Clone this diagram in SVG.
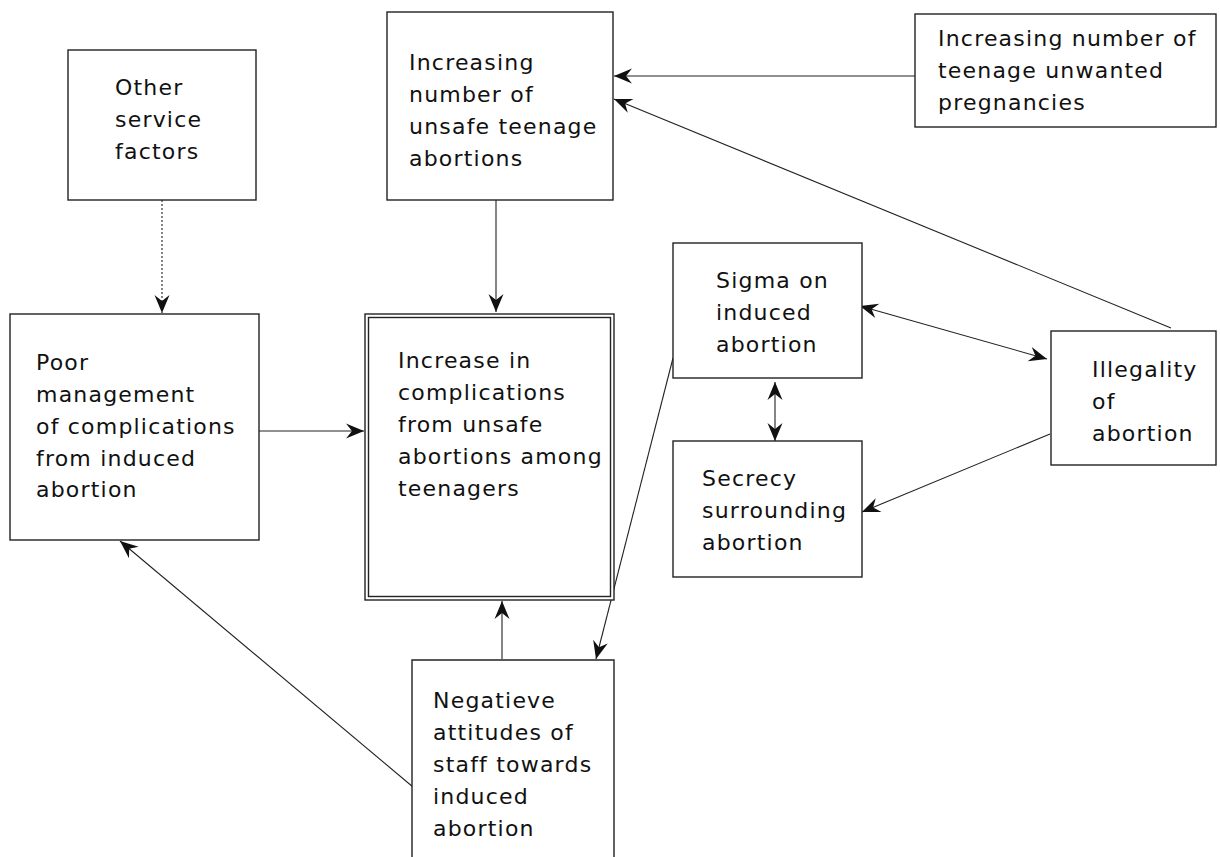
<svg xmlns="http://www.w3.org/2000/svg" width="1220" height="857" viewBox="0 0 1220 857">
<style>
.box{fill:#fff;stroke:#222;stroke-width:1.4}
.t{font-family:"DejaVu Sans",sans-serif;font-size:22px;letter-spacing:1.2px;fill:#111}
.c{fill:none;stroke:#222;stroke-width:1.1}
.d{stroke-dasharray:2,2}
</style>
<defs>
<marker id="ah" markerUnits="userSpaceOnUse" markerWidth="20" markerHeight="16" refX="18" refY="8" orient="auto-start-reverse" overflow="visible">
<path d="M0,0.5 L18,8 L0,15.5 L6,8 z" fill="#111"/>
</marker>
</defs>
<rect width="1220" height="857" fill="#fff"/>
<g id="connectors">
<line class="c d" x1="162" y1="200" x2="162" y2="313" marker-end="url(#ah)"/>
<line class="c" x1="496" y1="200" x2="496" y2="312" marker-end="url(#ah)"/>
<line class="c" x1="915" y1="76" x2="614" y2="76" marker-end="url(#ah)"/>
<line class="c" x1="1171" y1="328" x2="614" y2="99" marker-end="url(#ah)"/>
<line class="c" x1="860" y1="306" x2="1047" y2="359" marker-start="url(#ah)" marker-end="url(#ah)"/>
<line class="c" x1="775" y1="382" x2="775" y2="441" marker-start="url(#ah)" marker-end="url(#ah)"/>
<line class="c" x1="1050" y1="434" x2="862" y2="512" marker-end="url(#ah)"/>
<line class="c" x1="673" y1="358" x2="596" y2="659" marker-end="url(#ah)"/>
<line class="c" x1="259" y1="431" x2="364" y2="431" marker-end="url(#ah)"/>
<line class="c" x1="502" y1="659" x2="502" y2="601" marker-end="url(#ah)"/>
<line class="c" x1="413" y1="787" x2="120" y2="541" marker-end="url(#ah)"/>
</g>
<g id="other-service">
<rect class="box" x="68" y="50" width="188" height="150"/>
<text class="t" x="115" y="95">Other</text>
<text class="t" x="115" y="127">service</text>
<text class="t" x="115" y="159">factors</text>
</g>
<g id="unsafe-abortions">
<rect class="box" x="387" y="12" width="226" height="188"/>
<text class="t" x="409" y="70">Increasing</text>
<text class="t" x="409" y="102">number of</text>
<text class="t" x="409" y="134">unsafe teenage</text>
<text class="t" x="409" y="166">abortions</text>
</g>
<g id="unwanted-pregnancies">
<rect class="box" x="915" y="14" width="301" height="113"/>
<text class="t" x="938" y="46">Increasing number of</text>
<text class="t" x="938" y="78">teenage unwanted</text>
<text class="t" x="938" y="110">pregnancies</text>
</g>
<g id="poor-management">
<rect class="box" x="10" y="314" width="249" height="226"/>
<text class="t" x="36" y="370">Poor</text>
<text class="t" x="36" y="402">management</text>
<text class="t" x="36" y="434">of complications</text>
<text class="t" x="36" y="466">from induced</text>
<text class="t" x="36" y="497">abortion</text>
</g>
<g id="complications">
<rect class="box" x="365" y="314" width="249" height="286"/>
<rect class="box" x="368.5" y="317.5" width="242" height="279" style="fill:none"/>
<text class="t" x="398" y="368">Increase in</text>
<text class="t" x="398" y="400">complications</text>
<text class="t" x="398" y="432">from unsafe</text>
<text class="t" x="398" y="464">abortions among</text>
<text class="t" x="398" y="496">teenagers</text>
</g>
<g id="stigma">
<rect class="box" x="673" y="243" width="189" height="135"/>
<text class="t" x="716" y="288">Sigma on</text>
<text class="t" x="716" y="320">induced</text>
<text class="t" x="716" y="352">abortion</text>
</g>
<g id="secrecy">
<rect class="box" x="673" y="441" width="189" height="136"/>
<text class="t" x="702" y="486">Secrecy</text>
<text class="t" x="702" y="518">surrounding</text>
<text class="t" x="702" y="550">abortion</text>
</g>
<g id="illegality">
<rect class="box" x="1051" y="331" width="165" height="134"/>
<text class="t" x="1092" y="377">Illegality</text>
<text class="t" x="1092" y="409">of</text>
<text class="t" x="1092" y="441">abortion</text>
</g>
<g id="negative-attitudes">
<path class="box" d="M412,870 V660 H614 V870"/>
<text class="t" x="433" y="708">Negatieve</text>
<text class="t" x="433" y="740">attitudes of</text>
<text class="t" x="433" y="772">staff towards</text>
<text class="t" x="433" y="804">induced</text>
<text class="t" x="433" y="836">abortion</text>
</g>
</svg>
